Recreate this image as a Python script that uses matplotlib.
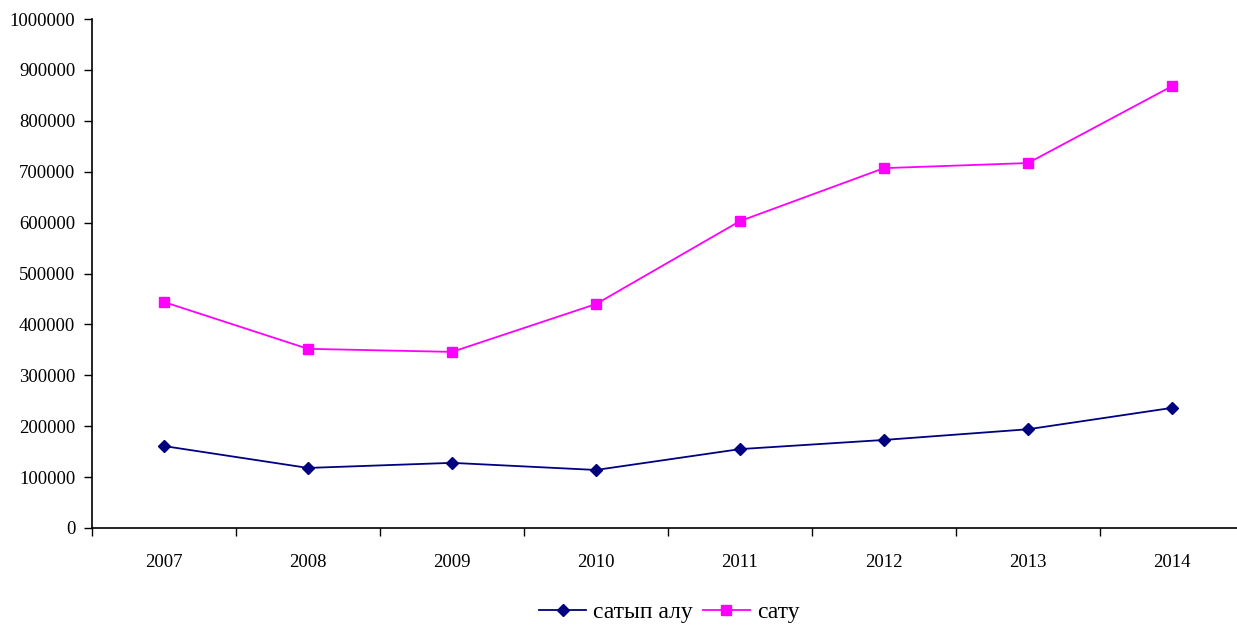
import numpy as np
import matplotlib
matplotlib.use('Agg')
import matplotlib.pyplot as plt
from matplotlib.ticker import FixedLocator, NullFormatter

years = ['2007', '2008', '2009', '2010', '2011', '2012', '2013', '2014']
buy = [161000, 118000, 128000, 114000, 155000, 173000, 194000, 236000]
sell = [444000, 352000, 346000, 440000, 603000, 707000, 717000, 868000]

plt.rcParams['font.family'] = ['Liberation Serif', 'DejaVu Serif']

fig = plt.figure(figsize=(12.37, 6.28), dpi=100)
ax = fig.add_axes([92/1237, 1-528/628, (1244-92)/1237, (528-19)/628])

x = np.arange(len(years))
ax.plot(x, buy, color='#000080', marker='D', markersize=6.5, lw=1.3, label='сатып алу')
ax.plot(x, sell, color='#FF00FF', marker='s', markersize=6.5, lw=1.3, label='сату')

ax.set_xlim(-0.5, len(years)-0.5)
ax.set_ylim(0, 1000000)
ax.set_yticks(np.arange(0, 1000001, 100000))
ax.set_yticklabels([str(v) for v in range(0, 1000001, 100000)])
ax.xaxis.set_major_locator(FixedLocator(np.arange(-0.5, len(years), 1)))
ax.xaxis.set_major_formatter(NullFormatter())
ax.set_xticks(x, minor=True)
ax.set_xticklabels(years, minor=True)
ax.tick_params(axis='x', which='minor', length=0, pad=19, labelsize=13.5)
ax.tick_params(axis='x', which='major', length=6, width=1, direction='out')
ax.tick_params(axis='y', length=6, width=1, direction='out', labelsize=13.5, pad=6)

for s in ['top', 'right']:
    ax.spines[s].set_visible(False)
for s in ['left', 'bottom']:
    ax.spines[s].set_linewidth(1.2)

fig.legend(loc='center', bbox_to_anchor=(0.541, 1-612/628), ncol=2, frameon=False,
           fontsize=17, handlelength=2.0, columnspacing=0.4, handletextpad=0.3)

fig.savefig('out.png', dpi=100)
